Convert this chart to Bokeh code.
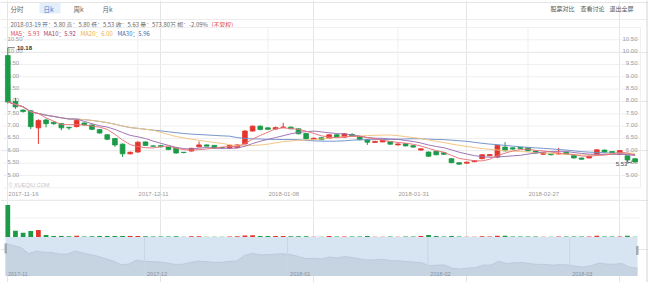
import pandas as pd
from bokeh.plotting import figure
from bokeh.models import Range1d, ColumnDataSource
from bokeh.core.properties import value
from bokeh.embed import file_html
from bokeh.resources import INLINE

# ---------------- data ----------------
opens = [9.86, 8.00, 7.65, 7.62, 6.93, 7.25, 7.16, 7.10, 6.95, 6.98,
         7.13, 7.05, 6.86, 6.65, 6.50, 6.27, 5.88, 5.95, 6.36, 6.20,
         6.21, 6.15, 6.11, 5.94, 5.99, 6.16, 6.24, 6.22, 6.13, 6.11,
         6.13, 6.28, 6.80, 7.00, 6.93, 6.88, 6.95, 6.96, 6.89, 6.70,
         6.46, 6.53, 6.51, 6.65, 6.55, 6.66, 6.56, 6.45, 6.34, 6.36,
         6.38, 6.24, 6.29, 6.21, 6.03, 5.95, 5.98, 5.92, 5.68, 5.52,
         5.50, 5.56, 5.68, 5.80, 5.75, 6.15, 6.12, 6.14, 6.12, 5.99,
         5.86, 5.89, 5.87, 5.94, 5.81, 5.71, 5.71, 5.84, 6.03, 5.97,
         5.86, 5.80, 5.68]
highs = [10.18, 8.15, 7.68, 7.65, 7.28, 7.30, 7.18, 7.12, 6.97, 7.28,
         7.15, 7.06, 6.88, 6.67, 6.52, 6.30, 5.97, 6.38, 6.38, 6.22,
         6.24, 6.16, 6.12, 5.95, 6.12, 6.38, 6.26, 6.23, 6.14, 6.23,
         6.26, 6.85, 7.02, 7.03, 6.95, 6.98, 7.13, 6.98, 6.90, 6.71,
         6.53, 6.55, 6.67, 6.67, 6.71, 6.72, 6.57, 6.46, 6.40, 6.44,
         6.39, 6.30, 6.30, 6.22, 6.10, 5.97, 6.00, 5.94, 5.70, 5.53,
         5.56, 5.62, 5.86, 5.87, 6.25, 6.35, 6.14, 6.16, 6.13, 6.00,
         5.94, 5.90, 6.12, 5.95, 5.82, 5.72, 5.80, 6.06, 6.05, 5.99,
         6.03, 5.80, 5.70]
lows = [7.92, 7.70, 7.55, 6.88, 6.28, 6.95, 7.05, 6.83, 6.85, 6.95,
        7.02, 6.84, 6.70, 6.43, 6.16, 5.75, 5.85, 5.92, 6.20, 6.17,
        6.14, 6.03, 5.88, 5.90, 5.97, 6.15, 6.18, 6.10, 6.10, 6.10,
        6.11, 6.25, 6.78, 6.84, 6.85, 6.86, 6.93, 6.88, 6.67, 6.45,
        6.44, 6.43, 6.50, 6.53, 6.54, 6.57, 6.43, 6.24, 6.32, 6.35,
        6.25, 6.22, 6.18, 6.13, 6.01, 5.76, 5.82, 5.84, 5.50, 5.44,
        5.48, 5.54, 5.66, 5.78, 5.70, 5.98, 6.05, 6.08, 5.98, 5.89,
        5.84, 5.82, 5.85, 5.84, 5.69, 5.64, 5.70, 5.83, 5.93, 5.90,
        5.84, 5.53, 5.53]
closes = [7.98, 7.78, 7.59, 6.98, 7.23, 7.10, 7.10, 6.93, 6.93, 7.23,
          7.05, 6.87, 6.72, 6.47, 6.24, 5.88, 5.94, 6.35, 6.22, 6.19,
          6.16, 6.05, 5.91, 5.93, 6.10, 6.24, 6.19, 6.11, 6.12, 6.22,
          6.24, 6.80, 7.00, 6.86, 6.87, 6.94, 6.96, 6.89, 6.69, 6.49,
          6.51, 6.45, 6.65, 6.55, 6.69, 6.59, 6.45, 6.35, 6.38, 6.42,
          6.27, 6.28, 6.20, 6.15, 6.08, 5.78, 5.84, 5.86, 5.52, 5.46,
          5.54, 5.60, 5.84, 5.85, 6.22, 6.00, 6.07, 6.09, 6.00, 5.91,
          5.92, 5.84, 5.89, 5.86, 5.71, 5.66, 5.78, 6.04, 5.95, 5.92,
          6.01, 5.63, 5.55]
volumes = [15300, 3000, 2050, 2870, 3350, 950, 480, 480, 380, 620,
           250, 300, 420, 420, 450, 500, 480, 520, 400, 200,
           180, 200, 350, 150, 380, 400, 150, 150, 120, 200,
           300, 750, 800, 500, 450, 420, 420, 400, 300, 300,
           150, 150, 450, 200, 250, 200, 250, 480, 150, 150,
           200, 150, 200, 200, 450, 900, 500, 200, 500, 250,
           150, 150, 300, 200, 650, 600, 200, 200, 250, 200,
           150, 150, 200, 200, 250, 200, 200, 550, 250, 200,
           250, 573.8, 150]

price_tick_values = [5.0, 5.5, 6.0, 6.5, 7.0, 7.5, 8.0, 8.5, 9.0, 9.5, 10.0, 10.5]
price_tick_labels = ["5.00", "5.50", "6.00", "6.50", "7.00", "7.50",
                     "8.00", "8.50", "9.00", "9.50", "10.00", "10.50"]
date_label_idx = [0, 17, 34, 51, 68]
date_labels = ["2017-11-16", "2017-12-11", "2018-01-08", "2018-01-31", "2018-02-27"]
nav_tick_pos = [0, 18.04, 36.6, 54.8, 73.2]
nav_labels = ["2017-11", "2017-12", "2018-01", "2018-02", "2018-03"]
ma_periods = [5, 10, 20, 30]
ma_header = ["MA5：5.93", "MA10：5.92", "MA20：6.00", "MA30：5.96"]
info_text = "2018-03-19 开：5.80 高：5.80 低：5.53 收：5.63 量：573.80万 幅：-2.09%"
info_flag = "(不复权)"
tabs = ["分时", "日k", "周k", "月k"]
links = ["股票对比", "查看讨论", "退出全屏"]
high_mark = "10.18"
low_mark = "5.53"

# ---------------- styles ----------------
RED = "#e4352d"
GREEN = "#1b9a47"
MA_LINE = ["#e8727a", "#9a6fb0", "#f3c37f", "#7090c8"]
MA_TEXT = ["#dc4a50", "#a23a66", "#f0b040", "#3e6aae"]
CJK = value("Noto Sans CJK SC")
LAT = value("Liberation Sans")

n = len(closes)
idx = list(range(n))
colors = [RED if c >= o else GREEN for o, c in zip(opens, closes)]
src = ColumnDataSource(dict(
    x=idx, o=opens, h=highs, l=lows, c=closes,
    top=[max(o, c) for o, c in zip(opens, closes)],
    bot=[min(o, c) for o, c in zip(opens, closes)],
    color=colors, vol=volumes))

cs = pd.Series(closes)
mas = [cs.rolling(k, min_periods=1).mean().tolist() for k in ma_periods]

# pixel geometry of the screenshot
X0, DX = 7.3, 7.65          # candle centre of index 0, spacing
Y5, PY = 175.0, 24.68        # pixel of 5.00, pixels per 1.0
W, H = 648, 282
VBASE, VSCALE = 236.5, 478.0  # volume baseline px, 万 per px
NX0, NDX = 5.0, 632.0 / 82
NY8, NPY = 243.0, 10.1       # nav: pixel of first close, px per 1.0

p = figure(width=W, height=H,
           x_range=Range1d(-X0 / DX, (W - X0) / DX),
           y_range=Range1d(5 - (H - Y5) / PY, 5 + Y5 / PY),
           x_axis_location=None, y_axis_location=None,
           toolbar_location=None, tools="", output_backend="svg",
           min_border=0, title=None)
p.outline_line_color = None
p.background_fill_color = "white"
p.border_fill_color = "white"
p.extra_x_ranges = {"px": Range1d(0, W),
                    "nav": Range1d(-NX0 / NDX, (W - NX0) / NDX)}
p.extra_y_ranges = {"py": Range1d(H, 0),
                    "vol": Range1d(-(H - VBASE) * VSCALE, VBASE * VSCALE),
                    "navy": Range1d(closes[0] - (H - NY8) / NPY, closes[0] + NY8 / NPY)}


def txt(x, y, s, color, size="6px", align="left", font=CJK, xr="px", yr="py",
        style="normal", yoff=0, xoff=0):
    p.text(x=x if isinstance(x, list) else [x], y=y if isinstance(y, list) else [y],
           text=s if isinstance(s, list) else [s],
           text_color=color, text_font_size=value(size), text_align=align,
           text_baseline="middle", text_font=font, text_font_style=style,
           x_range_name=xr, y_range_name=yr, y_offset=yoff, x_offset=xoff)


# ---------------- header ----------------
p.quad(left=[39], right=[60], top=[2.5], bottom=[13], fill_color="#e3eefb",
       line_color=None, x_range_name="px", y_range_name="py")
tab_x = [10, 43, 73, 102]
for t, x in zip(tabs, tab_x):
    txt(x, 8, t, "#3f82d0" if t == "日k" else "#666666", size="6.5px")
for t, x in zip(links, [550, 580, 609]):
    txt(x, 7.5, t, "#555555", size="6px")
p.segment(x0=[0], y0=[19], x1=[646], y1=[19], line_color="#ececec",
          line_width=1, x_range_name="px", y_range_name="py")
txt(10, 24, info_text, "#666666", size="5.9px")
txt(211, 24, info_flag, "#e0403a", size="5.9px")
for t, x, c in zip(ma_header, [10, 43, 80, 117], MA_TEXT):
    txt(x, 33, t, c, size="5.9px")

# ---------------- price grid ----------------
grid_prices = [4.5 + 0.5 * k for k in range(14)]
p.segment(x0=[3] * len(grid_prices), y0=grid_prices, x1=[640] * len(grid_prices),
          y1=grid_prices, line_color="#efefef", line_width=1, x_range_name="px")
p.segment(x0=date_label_idx[1:], y0=[4.5] * 4, x1=date_label_idx[1:], y1=[11.0] * 4,
          line_color="#efefef", line_width=1)
p.segment(x0=[640], y0=[4.5], x1=[640], y1=[11.0], line_color="#efefef",
          line_width=1, x_range_name="px")

# axis labels (inside the plot)
txt([7] * len(price_tick_values), price_tick_values, price_tick_labels, "#9a9a9a",
    size="6px", font=LAT, yr="default", yoff=-1)
txt([637] * len(price_tick_values), price_tick_values, price_tick_labels, "#9a9a9a",
    size="6px", font=LAT, yr="default", align="right", yoff=-1)
txt(date_label_idx, [193] * len(date_labels), date_labels, "#9a9a9a",
    size="6px", font=LAT, xr="default", xoff=0.5)
txt(8, 184, "© XUEQIU.COM", "#c4c4c4", size="5.5px", font=LAT)

# ---------------- candles ----------------
p.segment(x0="x", y0="l", x1="x", y1="h", line_color="color", line_width=1, source=src)
p.vbar(x="x", top="top", bottom="bot", width=0.62, fill_color="color",
       line_color="color", line_width=0.8, source=src)

for m, col in zip(mas[::-1], MA_LINE[::-1]):
    p.line(idx, m, line_color=col, line_width=1, line_alpha=0.95)

# high / low markers
p.segment(x0=[0], y0=[highs[0]], x1=[0.9], y1=[highs[0]], line_color="#555555", line_width=0.8)
txt(1.2, highs[0], high_mark, "#333333", size="6px", font=LAT, xr="default",
    yr="default", style="bold")
p.segment(x0=[81], y0=[lows[81]], x1=[81.6], y1=[lows[81]], line_color="#555555", line_width=0.8)
txt(81, lows[81], low_mark, "#444444", size="6px", font=LAT, xr="default",
    yr="default", align="right", yoff=1.5)

# ---------------- volume ----------------
for yy in (199.5, 217.5):
    p.segment(x0=[3], y0=[yy], x1=[640], y1=[yy], line_color="#f2f2f2",
              line_width=1, x_range_name="px", y_range_name="py")

# ---------------- navigator ----------------
p.quad(left=[5], right=[637], top=[236.5], bottom=[275.5], fill_color="#d7e4f2",
       line_color=None, x_range_name="px", y_range_name="py")
nav_base = closes[0] - (275.5 - NY8) / NPY
p.varea(x=idx, y1=[nav_base] * n, y2=closes, fill_color="#c6d3e1",
        x_range_name="nav", y_range_name="navy")
p.line(idx, closes, line_color="#b8c7d9", line_width=0.8,
       x_range_name="nav", y_range_name="navy")
p.segment(x0=nav_tick_pos[1:], y0=[236.5] * 4, x1=nav_tick_pos[1:], y1=[275.5] * 4,
          line_color="#c9d5e3", line_width=1, x_range_name="nav", y_range_name="py")
txt(nav_tick_pos, [273] * len(nav_labels), nav_labels, "#8a929e", size="5.5px",
    font=LAT, xr="nav", xoff=2.5)
p.quad(left=[4, 635.5], right=[6.5, 638], top=[243, 245.5], bottom=[253, 254.5],
       fill_color="#a3abb5", line_color=None, x_range_name="px", y_range_name="py")

# volume bars over the navigator edge
p.vbar(x="x", top="vol", bottom=0, width=0.62, fill_color="color",
       line_color=None, y_range_name="vol", source=src)

# page edge
p.segment(x0=[646.5], y0=[0], x1=[646.5], y1=[282], line_color="#d4d4d4",
          line_width=1, x_range_name="px", y_range_name="py")

open("out.html", "w").write(file_html(p, INLINE))
